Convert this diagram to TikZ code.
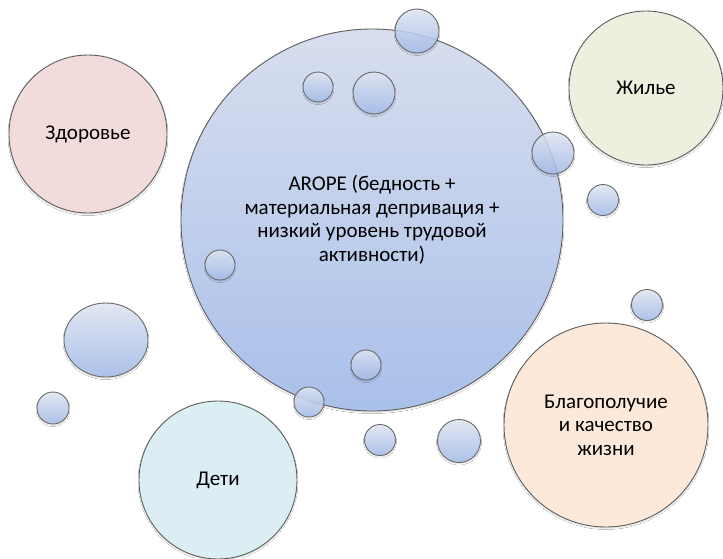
\documentclass[tikz,border=0pt]{standalone}
\usepackage{fontspec}
\setmainfont{Carlito}
\usepackage{xcolor}
\definecolor{arope-top}{HTML}{D8DEEE}
\definecolor{arope-bottom}{HTML}{A9C0EA}
\definecolor{bubble-top}{HTML}{E3E9F6}
\definecolor{bubble-bottom}{HTML}{A4BDEB}
\definecolor{bubble-line}{HTML}{6A6A6A}
\definecolor{topic-line}{HTML}{5E5E5E}
\definecolor{health-fill}{HTML}{F2DCDB}
\definecolor{housing-fill}{HTML}{EBF1DE}
\definecolor{children-fill}{HTML}{DBEEF4}
\definecolor{welfare-fill}{HTML}{FDE9D9}
\usepackage{tikz}
\usetikzlibrary{shadows.blur}

\tikzset{
    soft-shadow/.style={blur shadow={shadow xshift=0pt, shadow yshift=-1.5pt,
        shadow blur radius=1pt, shadow opacity=12}},
    topic/.style={circle, draw=topic-line, line width=0.9pt, minimum size=#1,
        inner sep=0pt, align=center, text=black,
        font=\fontsize{21}{23.5}\selectfont, soft-shadow},
    bubble/.style={draw=bubble-line, line width=0.9pt, top color=bubble-top,
        bottom color=bubble-bottom, fill opacity=0.85, soft-shadow}
}

\begin{document}
\begin{tikzpicture}[x=1pt, y=1pt]

    % Background
    \useasboundingbox[fill=white] (0, 0) rectangle (723, -558);

    % Centre
    \node[topic=382pt, top color=arope-top, bottom color=arope-bottom] (arope) at (372, -220)
        {AROPE (бедность +\\материальная депривация +\\низкий уровень трудовой\\активности)};

    % Topics
    \node[topic=158pt, fill=health-fill] (health) at (88, -134) {Здоровье};
    \node[topic=154pt, fill=housing-fill] (housing) at (646, -88) {Жилье};
    \node[topic=204pt, fill=welfare-fill] (welfare) at (606, -425) {Благополучие\\и качество\\жизни};
    \node[topic=158pt, fill=children-fill] (children) at (218, -480) {Дети};

    % Bubbles on the centre
    \draw[bubble] (417, -31) circle (22pt);
    \draw[bubble] (318, -87) circle (15pt);
    \draw[bubble] (374, -93) circle (21pt);
    \draw[bubble] (553, -153) circle (21pt);
    \draw[bubble] (220, -265) circle (15pt);
    \draw[bubble] (366, -365) circle (15pt);
    \draw[bubble] (309, -402) circle (15pt);

    % Loose bubbles
    \draw[bubble] (603, -200) circle (15.5pt);
    \draw[bubble] (647, -305) circle (15.5pt);
    \draw[bubble] (380, -440) circle (15.5pt);
    \draw[bubble] (459, -441) circle (21.5pt);
    \draw[bubble] (106, -340) ellipse (42pt and 37pt);
    \draw[bubble] (53, -408) circle (16pt);

\end{tikzpicture}
\end{document}
